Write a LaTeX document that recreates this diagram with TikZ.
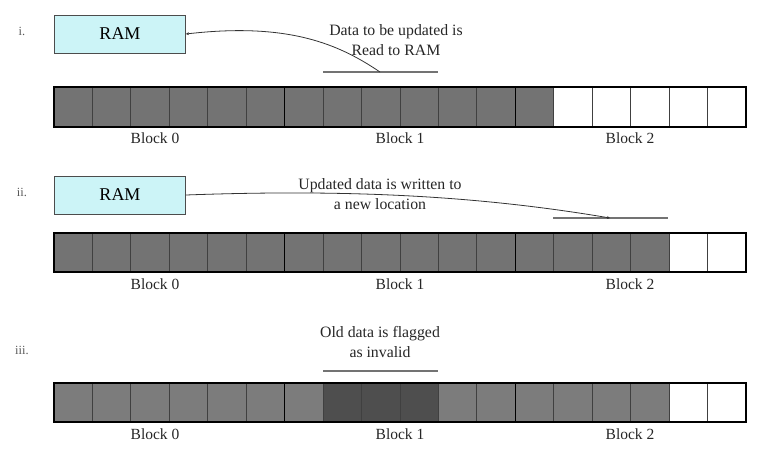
\documentclass[tikz,border=0pt]{standalone}
\usepackage{fontspec}
\setmainfont{Liberation Serif}
\usetikzlibrary{arrows.meta}
\definecolor{ramfill}{HTML}{CCF4F7}
\definecolor{used}{HTML}{737373}
\definecolor{usedb}{HTML}{7C7C7C}
\definecolor{invalid}{HTML}{4E4E4E}
\begin{document}
\begin{tikzpicture}[x=1pt,y=-1pt,
  rambox/.style={draw=black!70, line width=0.8pt, fill=ramfill, minimum width=131pt, minimum height=38pt, font=\fontsize{18}{20}\selectfont, inner sep=0pt},
  lbl/.style={font=\fontsize{15.8}{20}\selectfont, align=center, text=black!85},
  blk/.style={font=\fontsize{15.5}{18}\selectfont, text=black!85},
  num/.style={font=\fontsize{12.5}{14}\selectfont, text=black!65},
  conn/.style={black!80, line width=0.8pt, -{Stealth[length=3pt,width=3pt]}},
  marker/.style={black!55, line width=1.2pt},
  sep/.style={black!75, line width=0.9pt},
  bsep/.style={black, line width=1.5pt},
  outer/.style={black, line width=1.8pt}]
\useasboundingbox (0,0) rectangle (760,450);
\def\cw{38.444}
% ---------- row i ----------
\node[num] (n1) at (22,31) {i.};
\node[rambox] (ram1) at (120,34) {RAM};
\node[lbl] (t1) at (396,40) {Data to be updated is\\Read to RAM};
\draw[marker] (323,72) -- (438,72);
\coordinate (m1) at (380,72);
\draw[conn] (m1) .. controls (340,45) and (290,22) .. (ram1.east);
\foreach \i in {0,...,12} \fill[used] ({54+\i*\cw},87) rectangle ++(\cw,40);
\foreach \i in {1,...,17} \draw[sep] ({54+\i*\cw},87) -- ++(0,40);
\foreach \i in {6,12} \draw[bsep] ({54+\i*\cw},87) -- ++(0,40);
\draw[outer] (54,87) rectangle (746,127);
\node[blk] (b10) at (155,138) {Block 0};
\node[blk] (b11) at (400,138) {Block 1};
\node[blk] (b12) at (630,138) {Block 2};
% ---------- row ii ----------
\node[num] (n2) at (22,192) {ii.};
\node[rambox] (ram2) at (120,195) {RAM};
\node[lbl] (t2) at (380,194) {Updated data is written to\\a new location};
\draw[marker] (553,218) -- (668,218);
\coordinate (m2) at (610,218);
\draw[conn] (ram2.east) .. controls (350,189) and (480,196) .. (m2);
\foreach \i in {0,...,15} \fill[used] ({54+\i*\cw},233) rectangle ++(\cw,39);
\foreach \i in {1,...,17} \draw[sep] ({54+\i*\cw},233) -- ++(0,39);
\foreach \i in {6,12} \draw[bsep] ({54+\i*\cw},233) -- ++(0,39);
\draw[outer] (54,233) rectangle (746,272);
\node[blk] (b20) at (155,284) {Block 0};
\node[blk] (b21) at (400,284) {Block 1};
\node[blk] (b22) at (630,284) {Block 2};
% ---------- row iii ----------
\node[num] (n3) at (22,350) {iii.};
\node[lbl] (t3) at (380,342) {Old data is flagged\\as invalid};
\draw[marker] (323,371) -- (438,371);
\foreach \i in {0,...,15} \fill[usedb] ({54+\i*\cw},383) rectangle ++(\cw,39);
\foreach \i in {7,8,9} \fill[invalid] ({54+\i*\cw},383) rectangle ++(\cw,39);
\foreach \i in {1,...,17} \draw[sep] ({54+\i*\cw},383) -- ++(0,39);
\foreach \i in {6,12} \draw[bsep] ({54+\i*\cw},383) -- ++(0,39);
\draw[outer] (54,383) rectangle (746,422);
\node[blk] (b30) at (155,434) {Block 0};
\node[blk] (b31) at (400,434) {Block 1};
\node[blk] (b32) at (630,434) {Block 2};
\end{tikzpicture}
\end{document}
